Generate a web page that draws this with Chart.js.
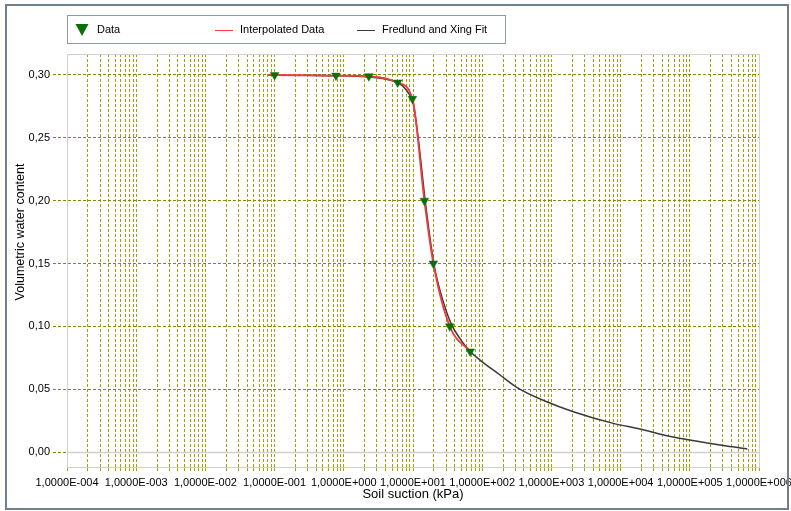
<!DOCTYPE html>
<html><head><meta charset="utf-8">
<script src="https://cdn.jsdelivr.net/npm/chart.js@4/dist/chart.umd.min.js"></script>
<style>html,body{margin:0;padding:0;background:#fff;overflow:hidden}canvas{display:block}</style>
</head><body>
<canvas id="c" width="791" height="511"></canvas>
<script>
// ---- data ----
const dataSuction   = [0.1, 0.77, 2.3, 6.0, 9.8, 14.6, 19.7, 34, 67];
const dataTheta     = [0.300, 0.2995, 0.299, 0.294, 0.281, 0.200, 0.150, 0.100, 0.080];
const interpSuction = [0.08, 0.1, 0.77, 2.3, 6.0, 9.8, 14.6, 19.7, 34, 67];
const interpTheta   = [0.300, 0.300, 0.2995, 0.299, 0.294, 0.281, 0.200, 0.150, 0.100, 0.080];
const fitSuction    = [0.26, 1, 3, 5, 7, 9, 10, 12, 15, 20, 25, 35, 48, 67, 93, 181, 315, 856, 2072, 7846, 19050, 46300, 140000, 341000, 680000];
const fitTheta      = [0.2998, 0.2993, 0.2978, 0.2955, 0.2915, 0.284, 0.279, 0.248, 0.200, 0.150, 0.127, 0.103, 0.090, 0.080, 0.0732, 0.0613, 0.0515, 0.0400, 0.0321, 0.0228, 0.0183, 0.0130, 0.0082, 0.0048, 0.0025];
const seriesNames   = ['Data', 'Interpolated Data', 'Fredlund and Xing Fit'];
const xDecades      = [1e-4, 1e-3, 1e-2, 1e-1, 1e0, 1e1, 1e2, 1e3, 1e4, 1e5, 1e6];
const xTickLabels   = ['1,0000E-004','1,0000E-003','1,0000E-002','1,0000E-001','1,0000E+000','1,0000E+001','1,0000E+002','1,0000E+003','1,0000E+004','1,0000E+005','1,0000E+006'];
const xMinorSteps   = [2, 3, 4, 5, 6, 7, 8, 9];
const yTicks        = [0, 0.05, 0.10, 0.15, 0.20, 0.25, 0.30];
const yTickLabels   = ['0,00','0,05','0,10','0,15','0,20','0,25','0,30'];
const xTitle = 'Soil suction (kPa)';
const yTitle = 'Volumetric water content';

// build tick lists (decades + minor 2..9)
const xTickValues = [], xTickText = [];
xDecades.forEach((d, i) => {
  xTickValues.push(d); xTickText.push(xTickLabels[i]);
  if (i < xDecades.length - 1) xMinorSteps.forEach(m => { xTickValues.push(d * m); xTickText.push(''); });
});
const pts = (xs, ys) => xs.map((x, i) => ({x: x, y: ys[i]}));

const FONT = '"Liberation Sans", Arial, sans-serif';
Chart.defaults.font.family = FONT;
Chart.defaults.font.size = 11;
Chart.defaults.color = '#000';

const GRID_H = '#8a8a00', GRID_V = '#a0a010', PLOT_BORDER = '#d0d0d0';
const GREEN = '#0a6e0a', RED = '#f03c3c', DARK = '#3a3a3a';

const decor = {
  id: 'decor',
  beforeDraw(chart) {
    const c = chart.ctx; c.save(); c.fillStyle = '#fff'; c.fillRect(0, 0, chart.width, chart.height); c.restore();
  },
  beforeDatasetsDraw(chart) {
    const c = chart.ctx, a = chart.chartArea, y = chart.scales.y;
    c.save();
    c.strokeStyle = PLOT_BORDER; c.lineWidth = 1.5;
    const y0 = Math.round(y.getPixelForValue(0)) + 0.5;
    c.beginPath(); c.moveTo(a.left, y0); c.lineTo(a.right, y0); c.stroke();
    c.lineWidth = 1;
    c.strokeRect(Math.round(a.left) + 0.5, Math.round(a.top) + 0.5, Math.round(a.right - a.left), Math.round(a.bottom - a.top));
    c.restore();
  },
  afterDraw(chart) {
    const c = chart.ctx, a = chart.chartArea, ds = chart.data.datasets;
    c.save();
    // outer frame
    c.strokeStyle = '#6f7f8e'; c.lineWidth = 2;
    c.strokeRect(6, 5, 782, 504);
    // legend box
    c.strokeStyle = '#8e9aa6'; c.lineWidth = 1;
    c.strokeRect(67.5, 15.5, 438, 28);
    c.font = '11px ' + FONT; c.fillStyle = '#000'; c.textBaseline = 'middle'; c.textAlign = 'left';
    const ly = 30;
    // Data marker
    c.fillStyle = ds[0].backgroundColor;
    c.beginPath(); c.moveTo(75.5, 24); c.lineTo(88.5, 24); c.lineTo(82, 36); c.closePath(); c.fill();
    c.fillStyle = '#000'; c.fillText(ds[0].label, 97, ly);
    // Interpolated
    c.strokeStyle = ds[1].borderColor; c.lineWidth = 1;
    c.beginPath(); c.moveTo(215, ly + 0.5); c.lineTo(233, ly + 0.5); c.stroke();
    c.fillText(ds[1].label, 240, ly);
    // Fit
    c.strokeStyle = ds[2].borderColor;
    c.beginPath(); c.moveTo(357, ly + 0.5); c.lineTo(375, ly + 0.5); c.stroke();
    c.fillText(ds[2].label, 382, ly);
    // axis titles
    c.font = '13px ' + FONT; c.textAlign = 'center';
    c.fillText(xTitle, (a.left + a.right) / 2, 494);
    c.font = '12.5px ' + FONT;
    c.translate(21, 232); c.rotate(-Math.PI / 2);
    c.fillText(yTitle, 0, 0);
    c.restore();
  }
};

new Chart(document.getElementById('c'), {
  type: 'scatter',
  data: {
    datasets: [
      { label: seriesNames[0], data: pts(dataSuction, dataTheta), showLine: false,
        pointStyle: 'triangle', rotation: 180, pointRadius: 5, pointHoverRadius: 5,
        backgroundColor: GREEN, borderColor: GREEN, pointBorderWidth: 0.5 },
      { label: seriesNames[1], data: pts(interpSuction, interpTheta), showLine: true,
        borderColor: RED, backgroundColor: RED, borderWidth: 1.8, pointRadius: 0,
        cubicInterpolationMode: 'monotone' },
      { label: seriesNames[2], data: pts(fitSuction, fitTheta), showLine: true,
        borderColor: DARK, backgroundColor: DARK, borderWidth: 1.5, pointRadius: 0,
        cubicInterpolationMode: 'monotone' }
    ]
  },
  options: {
    responsive: false, animation: false, devicePixelRatio: 1,
    layout: { padding: { left: 0, right: 32, top: 54, bottom: 0 } },
    plugins: { legend: { display: false }, tooltip: { enabled: false } },
    events: [],
    scales: {
      x: {
        type: 'logarithmic', min: 1e-4, max: 1e6,
        afterBuildTicks: s => { s.ticks = xTickValues.map(v => ({ value: v })); },
        afterFit: s => { s.height = 44; s.paddingLeft = 0; s.paddingRight = 0; },
        ticks: { autoSkip: false, maxRotation: 0, minRotation: 0, padding: 3,
                 callback: (v, i) => xTickText[i] },
        grid: { color: GRID_V, tickColor: GRID_V, tickLength: 6, lineWidth: 1, tickBorderDash: [3, 2] },
        border: { color: PLOT_BORDER, width: 1, dash: [3, 2] }
      },
      y: {
        type: 'linear', min: -0.0119, max: 0.3167,
        afterBuildTicks: s => { s.ticks = yTicks.map(v => ({ value: v })); },
        afterFit: s => { s.width = 67; s.paddingTop = 0; s.paddingBottom = 0; },
        ticks: { padding: 3, callback: (v, i) => yTickLabels[i] },
        grid: { color: ctx => (ctx.tick && ctx.tick.value === 0) ? 'rgba(0,0,0,0)' : GRID_H,
                tickColor: GRID_H, tickLength: 14, lineWidth: 1, tickBorderDash: [3, 2] },
        border: { color: PLOT_BORDER, width: 1, dash: [3, 2] }
      }
    }
  },
  plugins: [decor]
});
</script>
</body></html>
